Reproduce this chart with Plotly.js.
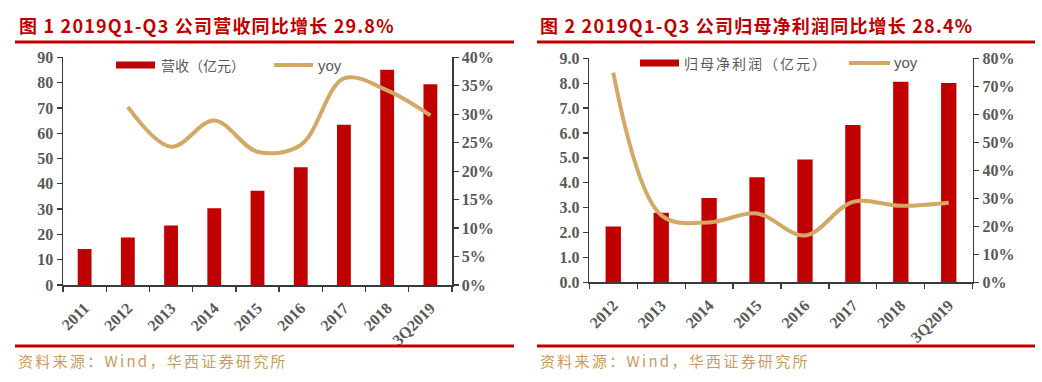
<!DOCTYPE html>
<html>
<head>
<meta charset="utf-8">
<script src="https://cdn.plot.ly/plotly-3.0.1.min.js"></script>
<style>
  html, body { margin: 0; padding: 0; background: #fff; }
  #chart { width: 1042px; height: 382px; }
</style>
</head>
<body>
<div id="chart"></div>
<script>
// ---------- DATA ----------
const title1 = '图 1 2019Q1-Q3 公司营收同比增长 29.8%';
const title2 = '图 2 2019Q1-Q3 公司归母净利润同比增长 28.4%';
const sourceText = '资料来源：Wind，华西证券研究所';

const years1 = ['2011', '2012', '2013', '2014', '2015', '2016', '2017', '2018', '3Q2019'];
const revenue = [14.2, 18.8, 23.5, 30.3, 37.3, 46.5, 63.3, 85.1, 79.3];
const revenueYoy = [null, 0.313, 0.243, 0.289, 0.234, 0.246, 0.363, 0.342, 0.298];
const revenueName = '营收（亿元）';

const years2 = ['2012', '2013', '2014', '2015', '2016', '2017', '2018', '3Q2019'];
const profit = [2.24, 2.79, 3.39, 4.22, 4.93, 6.32, 8.06, 8.01];
const profitYoy = [0.749, 0.240, 0.214, 0.246, 0.167, 0.287, 0.273, 0.284];
const profitName = '归母净利润（亿元）';
const yoyName = 'yoy';

// ---------- STYLE ----------
const W = 1042, H = 382;
const RED = '#C00000';
const TAN = '#D3A866';
const TICKGRAY = '#595959';
const AXIS = '#3a3a3a';
const px = x => x / W;
const py = y => 1 - y / H;

const tickFont = { family: 'Liberation Serif, Times New Roman, serif', size: 16, color: TICKGRAY, weight: 'bold' };

const traces = [
  { type: 'bar', x: years1, y: revenue, xaxis: 'x', yaxis: 'y', name: revenueName,
    marker: { color: RED }, width: 0.32, showlegend: false },
  { type: 'scatter', mode: 'lines', x: years1, y: revenueYoy, xaxis: 'x', yaxis: 'y2', name: yoyName,
    line: { color: TAN, width: 4, shape: 'spline', smoothing: 1 }, showlegend: false },
  { type: 'bar', x: years2, y: profit, xaxis: 'x2', yaxis: 'y3', name: profitName,
    marker: { color: RED }, width: 0.32, showlegend: false },
  { type: 'scatter', mode: 'lines', x: years2, y: profitYoy, xaxis: 'x2', yaxis: 'y4', name: yoyName,
    line: { color: TAN, width: 4, shape: 'spline', smoothing: 1 }, showlegend: false }
];

const xBase = {
  type: 'category', showgrid: false, zeroline: false, showline: true, linecolor: AXIS, linewidth: 1.5,
  ticks: 'outside', tickson: 'boundaries', ticklen: 5, tickcolor: AXIS, tickwidth: 1.3,
  tickangle: -45, tickfont: tickFont, ticklabelstandoff: 6, fixedrange: true
};
const yBase = {
  showgrid: false, zeroline: false, showline: true, linecolor: AXIS, linewidth: 1.5,
  ticks: 'outside', ticklen: 5, tickcolor: AXIS, tickwidth: 1.3, tickfont: tickFont, fixedrange: true
};

const titleFont = { family: 'Noto Sans CJK SC, sans-serif', size: 18, color: RED, weight: 'bold' };
const srcFont = { family: 'Noto Sans CJK SC, sans-serif', size: 15, color: '#C99B5C' };
const legFont = { family: 'Noto Sans CJK SC, sans-serif', size: 14, color: TICKGRAY };
const yoyFont = { family: 'Liberation Sans, Arial, sans-serif', size: 15, color: TICKGRAY };

function ann(x, y, text, font) {
  return { xref: 'paper', yref: 'paper', x: px(x), y: py(y), xanchor: 'left', yanchor: 'middle', showarrow: false, text: text, font: font };
}
function hline(x0, x1, y, color, w) {
  return { type: 'line', xref: 'paper', yref: 'paper', x0: px(x0), x1: px(x1), y0: py(y), y1: py(y), line: { color: color, width: w } };
}

const layout = {
  width: W, height: H,
  margin: { l: 0, r: 0, t: 0, b: 0 },
  paper_bgcolor: '#fff', plot_bgcolor: 'rgba(0,0,0,0)',
  showlegend: false,
  xaxis: Object.assign({}, xBase, { domain: [px(63), px(452)], anchor: 'y' }),
  yaxis: Object.assign({}, yBase, { domain: [py(285), py(57.3)], range: [0, 90], dtick: 10, anchor: 'x' }),
  yaxis2: Object.assign({}, yBase, { overlaying: 'y', side: 'right', anchor: 'x', range: [0, 0.4], dtick: 0.05, tickformat: '.0%' }),
  xaxis2: Object.assign({}, xBase, { domain: [px(589.3), px(972.7)], anchor: 'y3' }),
  yaxis3: Object.assign({}, yBase, { domain: [py(282.3), py(58.3)], range: [0, 9], dtick: 1, tickformat: '.1f', anchor: 'x2' }),
  yaxis4: Object.assign({}, yBase, { overlaying: 'y3', side: 'right', anchor: 'x2', range: [0, 0.8], dtick: 0.1, tickformat: '.0%' }),
  shapes: [
    hline(15, 514, 42, RED, 3),
    hline(537, 1035, 42, RED, 3),
    hline(15, 514, 346, RED, 3),
    hline(537, 1035, 346, RED, 3),
    { type: 'rect', xref: 'paper', yref: 'paper', x0: px(116), x1: px(155), y0: py(68.5), y1: py(61.5), fillcolor: RED, line: { width: 0 } },
    hline(274, 313, 65, TAN, 4),
    { type: 'rect', xref: 'paper', yref: 'paper', x0: px(640), x1: px(679), y0: py(66.5), y1: py(59.5), fillcolor: RED, line: { width: 0 } },
    hline(849, 890, 63, TAN, 4)
  ],
  annotations: [
    ann(17, 25, '<span style="letter-spacing:1.2px">' + title1 + '</span>', titleFont),
    ann(538, 25, '<span style="letter-spacing:1.2px">' + title2 + '</span>', titleFont),
    ann(16, 360, '<span style="letter-spacing:2.3px">' + sourceText + '</span>', srcFont),
    ann(538, 360, '<span style="letter-spacing:2.3px">' + sourceText + '</span>', srcFont),
    ann(159, 65, revenueName, legFont),
    ann(316, 65, yoyName, yoyFont),
    ann(682, 63, '<span style="letter-spacing:2px">' + profitName + '</span>', legFont),
    ann(892, 63, yoyName, yoyFont)
  ]
};

Plotly.newPlot('chart', traces, layout, { staticPlot: true, displayModeBar: false });
</script>
</body>
</html>
